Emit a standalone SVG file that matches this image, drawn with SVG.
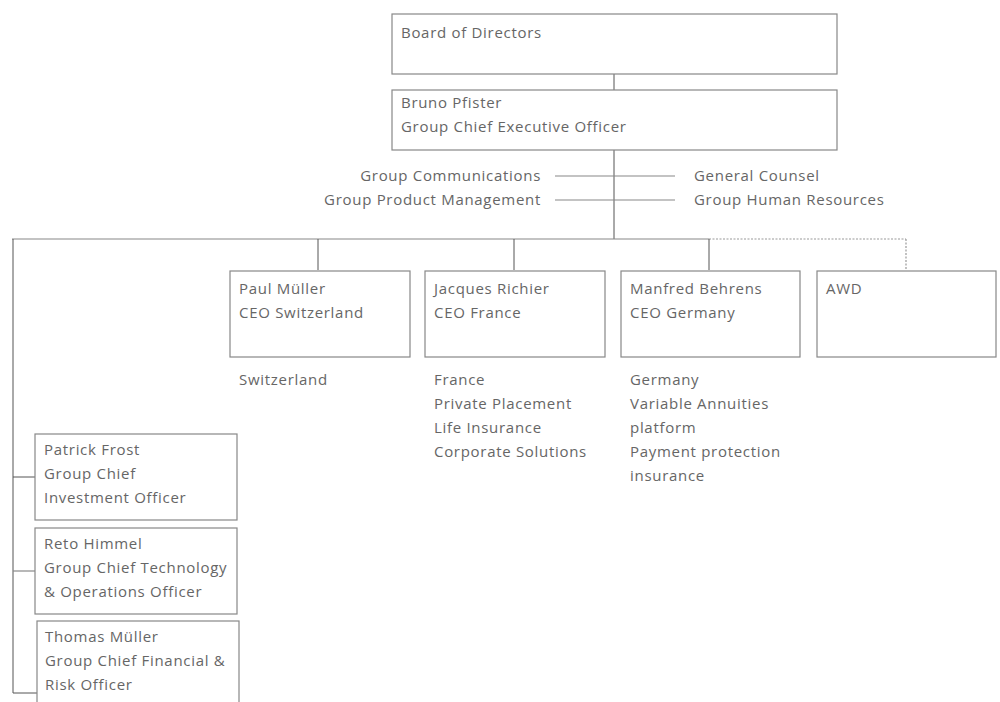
<svg xmlns="http://www.w3.org/2000/svg" width="1000" height="702" viewBox="0 0 1000 702">
<style>
text{font-family:"Open Sans","Liberation Sans",sans-serif;font-size:15px;fill:#666;letter-spacing:0.7px}
.box{fill:#fff;stroke:#888;stroke-width:1.2}
.ln{stroke:#555;stroke-width:1;fill:none}
.lt{stroke:#888;stroke-width:1.2;fill:none}
.dot{stroke:#999;stroke-width:1.2;fill:none;stroke-dasharray:2 1.5}
.r{text-anchor:end}
</style>
<rect width="1000" height="702" fill="#fff"/>
<g id="connectors">
<line class="ln" x1="614" y1="74" x2="614" y2="90"/>
<line class="ln" x1="614" y1="150" x2="614" y2="239"/>
<line class="lt" x1="555" y1="176" x2="675" y2="176"/>
<line class="lt" x1="555" y1="200" x2="675" y2="200"/>
<line class="lt" x1="12" y1="239" x2="709" y2="239"/>
<line class="dot" x1="709" y1="239" x2="906" y2="239"/>
<line class="dot" x1="906" y1="239" x2="906" y2="270"/>
<line class="ln" x1="318" y1="239" x2="318" y2="270"/>
<line class="ln" x1="514" y1="239" x2="514" y2="270"/>
<line class="ln" x1="709" y1="239" x2="709" y2="270"/>
<line class="ln" x1="13" y1="239" x2="13" y2="693"/>
<line class="ln" x1="13" y1="477" x2="35" y2="477"/>
<line class="lt" x1="13" y1="571" x2="35" y2="571"/>
<line class="ln" x1="13" y1="693" x2="37" y2="693"/>
</g>
<g id="board">
<rect class="box" x="392" y="14" width="445" height="60"/>
<text x="401" y="38">Board of Directors</text>
</g>
<g id="ceo">
<rect class="box" x="392" y="90" width="445" height="60"/>
<text x="401" y="108">Bruno Pfister</text>
<text x="401" y="132">Group Chief Executive Officer</text>
</g>
<g id="staff">
<text class="r" x="541" y="181">Group Communications</text>
<text class="r" x="541" y="205">Group Product Management</text>
<text x="694" y="181">General Counsel</text>
<text x="694" y="205">Group Human Resources</text>
</g>
<g id="switzerland">
<rect class="box" x="230" y="271" width="180" height="86"/>
<text x="239" y="294">Paul Müller</text>
<text x="239" y="318">CEO Switzerland</text>
<text x="239" y="385">Switzerland</text>
</g>
<g id="france">
<rect class="box" x="425" y="271" width="180" height="86"/>
<text x="434" y="294">Jacques Richier</text>
<text x="434" y="318">CEO France</text>
<text x="434" y="385">France</text>
<text x="434" y="409">Private Placement</text>
<text x="434" y="433">Life Insurance</text>
<text x="434" y="457">Corporate Solutions</text>
</g>
<g id="germany">
<rect class="box" x="621" y="271" width="179" height="86"/>
<text x="630" y="294">Manfred Behrens</text>
<text x="630" y="318">CEO Germany</text>
<text x="630" y="385">Germany</text>
<text x="630" y="409">Variable Annuities</text>
<text x="630" y="433">platform</text>
<text x="630" y="457">Payment protection</text>
<text x="630" y="481">insurance</text>
</g>
<g id="awd">
<rect class="box" x="817" y="271" width="179" height="86"/>
<text x="826" y="294">AWD</text>
</g>
<g id="frost">
<rect class="box" x="35" y="434" width="202" height="86"/>
<text x="44" y="455">Patrick Frost</text>
<text x="44" y="479">Group Chief</text>
<text x="44" y="503">Investment Officer</text>
</g>
<g id="himmel">
<rect class="box" x="35" y="528" width="202" height="86"/>
<text x="44" y="549">Reto Himmel</text>
<text x="44" y="573">Group Chief Technology</text>
<text x="44" y="597">&amp; Operations Officer</text>
</g>
<g id="tmueller">
<rect class="box" x="37" y="621" width="202" height="90"/>
<text x="45" y="642">Thomas Müller</text>
<text x="45" y="666">Group Chief Financial &amp;</text>
<text x="45" y="690">Risk Officer</text>
</g>
</svg>
